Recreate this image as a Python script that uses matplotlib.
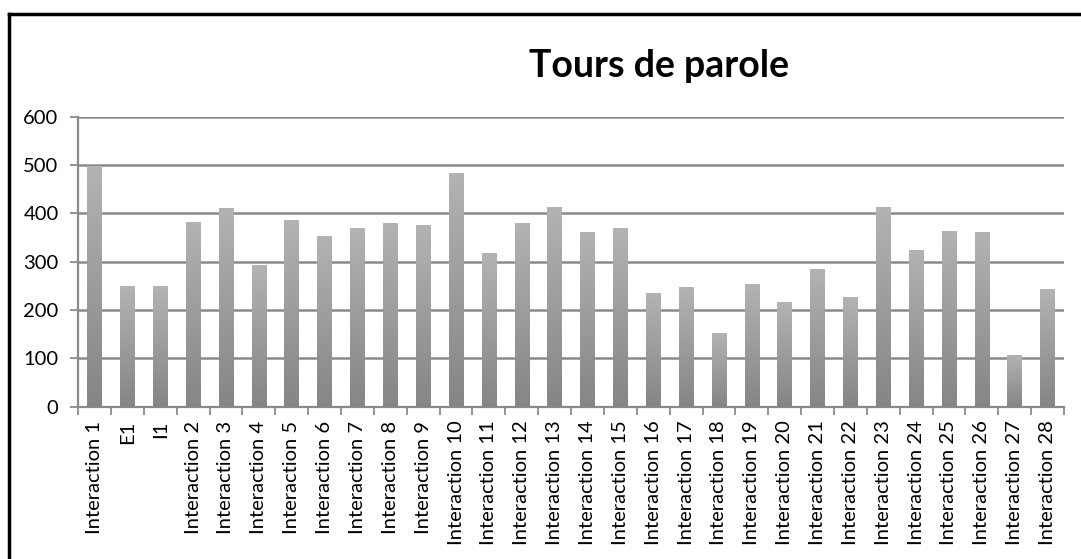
import matplotlib
matplotlib.use("Agg")
import matplotlib.pyplot as plt
import numpy as np
from matplotlib.lines import Line2D

plt.rcParams['font.family'] = ['Lato', 'DejaVu Sans']

categories = ["Interaction 1", "E1", "I1"] + [f"Interaction {i}" for i in range(2, 29)]
values = [498, 250, 250, 383, 412, 294, 386, 354, 370, 381, 375, 483, 317, 381, 413,
          361, 369, 235, 248, 153, 254, 217, 284, 226, 414, 325, 363, 361, 106, 243]
yticks = [0, 100, 200, 300, 400, 500, 600]
title = "Tours de parole"

GRID = "#8a8a8a"

fig = plt.figure(figsize=(10.81, 5.59), dpi=100)
ax = fig.add_axes([0.0722, 0.2725, 0.9121, 0.5188])

x = np.arange(len(categories))
bars = ax.bar(x, values, width=0.44, color="#9c9c9c", zorder=2)

# vertical gradient inside each bar (light top, darker bottom)
grad = np.linspace(0, 1, 256).reshape(-1, 1)
cmap = matplotlib.colors.LinearSegmentedColormap.from_list("g", ["#858585", "#b3b3b3"])
for b in bars:
    x0, w, h = b.get_x(), b.get_width(), b.get_height()
    im = ax.imshow(grad, extent=(x0, x0 + w, 0, h), origin="lower", aspect="auto",
                   cmap=cmap, zorder=3)
    im.set_clip_path(b)

ax.set_xlim(-0.5, len(categories) - 0.5)
ax.set_ylim(0, 600)
ax.set_yticks(yticks)
ax.set_yticklabels([str(v) for v in yticks], fontsize=14.5)
ax.yaxis.grid(True, color=GRID, linewidth=1.8, zorder=0)
ax.set_axisbelow(True)

ax.set_xticks(x)
ax.set_xticklabels(categories, rotation=90, fontsize=14.5)
ax.tick_params(axis="x", length=0, pad=10)
ax.set_xticks(np.arange(-0.5, len(categories)), minor=True)
ax.tick_params(axis="x", which="minor", length=6, color=GRID, width=1.3)
ax.tick_params(axis="y", length=6, color=GRID, width=1.3, pad=8)

for s in ["top", "right"]:
    ax.spines[s].set_visible(False)
for s in ["left", "bottom"]:
    ax.spines[s].set_color(GRID)
    ax.spines[s].set_linewidth(1.6)

fig.text(0.61, 0.882, title, fontsize=27, fontweight="bold", ha="center", va="center")

# outer frame (top and left edges visible)
fig.add_artist(Line2D([9 / 1081, 1], [1 - 14 / 559, 1 - 14 / 559], color="black", linewidth=2.5))
fig.add_artist(Line2D([9 / 1081, 9 / 1081], [0, 1 - 14 / 559], color="black", linewidth=2.5))

fig.savefig("out.png", dpi=100)
